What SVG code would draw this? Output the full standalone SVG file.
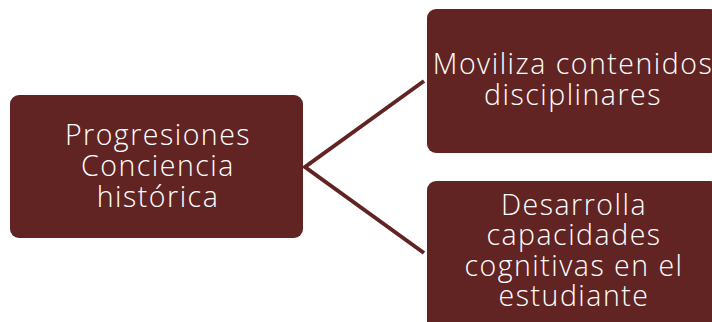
<svg xmlns="http://www.w3.org/2000/svg" width="712" height="322" viewBox="0 0 712 322">
<style>
.box{fill:#622423;}
.lbl{fill:#ffffff;font-family:"Open Sans","DejaVu Sans",sans-serif;font-weight:300;font-size:28.5px;letter-spacing:1.5px;text-anchor:middle;}
.con{stroke:#622423;stroke-width:4;fill:none;}
</style>
<rect width="712" height="322" fill="#ffffff"/>
<g id="connectors">
<polyline class="con" points="424,81 305,167 424,253"/>
</g>
<g id="node-progresiones">
<rect class="box" x="10" y="95" width="293" height="143" rx="9"/>
<text class="lbl" x="158" y="144.5">Progresiones</text>
<text class="lbl" x="158" y="175.5">Conciencia</text>
<text class="lbl" x="158" y="206.5">histórica</text>
</g>
<g id="node-moviliza">
<rect class="box" x="427" y="9" width="292" height="144" rx="9"/>
<text class="lbl" x="573" y="74">Moviliza contenidos</text>
<text class="lbl" x="573" y="104.5">disciplinares</text>
</g>
<g id="node-desarrolla">
<rect class="box" x="427" y="181" width="292" height="150" rx="9"/>
<text class="lbl" x="574" y="214.5">Desarrolla</text>
<text class="lbl" x="574" y="245">capacidades</text>
<text class="lbl" x="574" y="275.5">cognitivas en el</text>
<text class="lbl" x="574" y="306">estudiante</text>
</g>
</svg>
